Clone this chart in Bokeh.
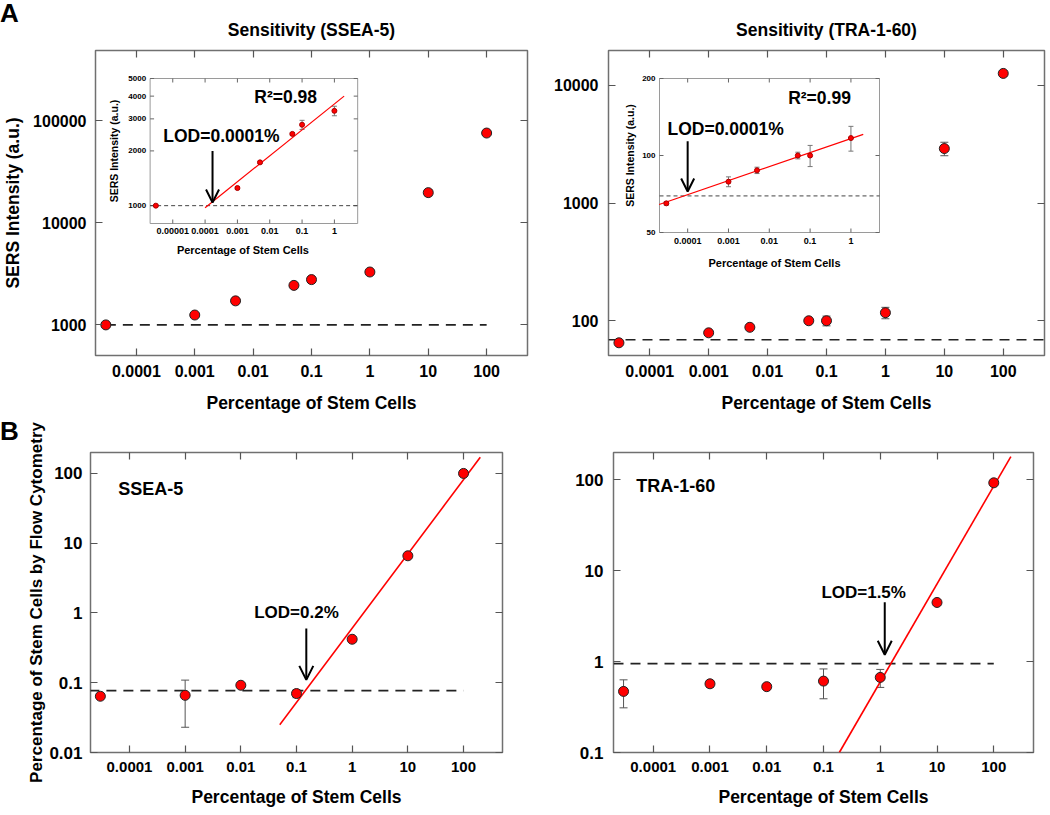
import math
from bokeh.plotting import figure
from bokeh.layouts import column, row
from bokeh.models import (LogAxis, FixedTicker, CustomJSTickFormatter, LogScale,
                          Whisker, TeeHead, ColumnDataSource, Arrow, OpenHead,
                          Label, Range1d, Div)
from bokeh.core.properties import value
from bokeh.embed import file_html
from bokeh.resources import INLINE

FONT = "Liberation Sans"

# ---------------- data ----------------
# Panel A (SERS sensitivity)
sers_conc = [3e-5, 0.001, 0.005, 0.05, 0.1, 1, 10, 100]
ssea5_sers = [1000, 1250, 1720, 2440, 2780, 3300, 19800, 76000]
ssea5_sers_err = [20, 40, 50, 60, 160, 200, 1400, 2500]
tra160_sers = [65, 79, 88, 100, 100, 117, 2900, 12600]
tra160_sers_err = [1.5, 3.5, 2.5, 3, 9.5, 13, 380, 600]
ssea5_blank = [1000, 1000]
ssea5_blank_x = [3e-5, 100]
tra160_blank = [69, 69]
tra160_blank_x = [10 ** -4.7, 10 ** 2.7]

# Insets of panel A
ins_ssea5_conc = [3e-6, 0.001, 0.005, 0.05, 0.1, 1]
ins_ssea5 = [1000, 1250, 1730, 2480, 2785, 3320]
ins_ssea5_err = [10, 20, 25, 40, 160, 200]
ins_ssea5_fit_x = [1e-4, 2.0]
ins_ssea5_fit_y = [975, 4000]
ins_ssea5_blank_x = [10 ** -5.7, 10 ** 0.72]
ins_ssea5_blank = [1000, 1000]

ins_tra_conc = [3e-5, 0.001, 0.005, 0.05, 0.1, 1]
ins_tra = [65, 79, 87.5, 100, 100, 117]
ins_tra_err = [1, 3.5, 2.5, 3, 9.5, 13]
ins_tra_fit_x = [2e-5, 2.0]
ins_tra_fit_y = [64.3, 121]
ins_tra_blank_x = [10 ** -4.69, 10 ** 0.70]
ins_tra_blank = [69.5, 69.5]

# Panel B (flow cytometry)
flow_conc = [3e-5, 0.001, 0.01, 0.1, 1, 10, 100]
ssea5_flow = [0.064, 0.066, 0.092, 0.070, 0.42, 6.6, 100]
ssea5_flow_err = [0.003, 0.043, 0.006, 0.009, 0.04, 0.3, 1]
ssea5_flow_fit_x = [0.05, 200]
ssea5_flow_fit_y = [0.025, 170]
ssea5_flow_blank_x = [10 ** -4.72, 100]
ssea5_flow_blank = [0.077, 0.077]

tra160_flow = [0.47, 0.57, 0.53, 0.61, 0.67, 4.47, 92.6]
tra160_flow_err = [0.16, 0.05, 0.02, 0.22, 0.15, 0.3, 2]
tra160_flow_fit_x = [0.19, 200]
tra160_flow_fit_y = [0.1, 180]
tra160_flow_blank_x = [10 ** -4.7, 100]
tra160_flow_blank = [0.95, 0.95]

# annotations (data coordinates)
lod_ssea5_ins = dict(x=1.7e-4, y0=2000, y1=1040, tx=3.2e-4, ty=2425, text="LOD=0.0001%")
r2_ssea5 = dict(x=0.031, y=3950, text="R\u00b2=0.98")
lod_tra_ins = dict(x=1e-4, y0=113.6, y1=72.3, tx=8.5e-4, ty=127, text="LOD=0.0001%")
r2_tra = dict(x=0.17, y=168, text="R\u00b2=0.99")
lod_ssea5_flow = dict(x=0.15, y0=0.6, y1=0.11, tx=0.1, ty=1.0, text="LOD=0.2%")
lod_tra_flow = dict(x=1.2, y0=4.5, y1=1.19, tx=0.51, ty=5.8, text="LOD=1.5%")

# ticks
main_x_ticks = [0.0001, 0.001, 0.01, 0.1, 1, 10, 100]
main_x_labels = ["0.0001", "0.001", "0.01", "0.1", "1", "10", "100"]
ssea5_y_ticks = [1000, 10000, 100000]
ssea5_y_labels = ["1000", "10000", "100000"]
tra_y_ticks = [100, 1000, 10000]
tra_y_labels = ["100", "1000", "10000"]
flow_ssea5_y_ticks = [0.01, 0.1, 1, 10, 100]
flow_ssea5_y_labels = ["0.01", "0.1", "1", "10", "100"]
flow_tra_y_ticks = [0.1, 1, 10, 100]
flow_tra_y_labels = ["0.1", "1", "10", "100"]
ins_ssea5_x_ticks = [0.00001, 0.0001, 0.001, 0.01, 0.1, 1]
ins_ssea5_x_labels = ["0.00001", "0.0001", "0.001", "0.01", "0.1", "1"]
ins_ssea5_y_ticks = [1000, 2000, 3000, 4000, 5000]
ins_ssea5_y_labels = ["1000", "2000", "3000", "4000", "5000"]
ins_tra_x_ticks = [0.0001, 0.001, 0.01, 0.1, 1]
ins_tra_x_labels = ["0.0001", "0.001", "0.01", "0.1", "1"]
ins_tra_y_ticks = [50, 100, 200]
ins_tra_y_labels = ["50", "100", "200"]

X_LABEL = "Percentage of Stem Cells"
Y_SERS = "SERS Intensity (a.u.)"
Y_FLOW = "Percentage of Stem Cells by Flow Cytometry"


# ---------------- helpers ----------------
def fmt(tick_values, tick_labels):
    return CustomJSTickFormatter(args=dict(tv=tick_values, tl=tick_labels), code="""
        for (let i = 0; i < tv.length; i++) {
            if (Math.abs(tv[i] - tick) <= 1e-9 * Math.abs(tv[i])) return tl[i];
        }
        return "";
    """)


def make_fig(w, h, mbl, mbr, mbt, mbb, xr, yr):
    p = figure(width=w, height=h, x_axis_type="log", y_axis_type="log",
               x_range=Range1d(*xr), y_range=Range1d(*yr),
               output_backend="svg", toolbar_location=None,
               min_border_left=mbl, min_border_right=mbr,
               min_border_top=mbt, min_border_bottom=mbb)
    p.background_fill_color = "white"
    p.border_fill_color = "white"
    p.border_fill_alpha = 0
    p.outline_line_color = "#707070"
    p.outline_line_width = 1.5
    p.xgrid.visible = False
    p.ygrid.visible = False
    return p


def setup_axes(p, xt, xl, yt, yl, x_fs, y_fs, x_so, y_so):
    xa = p.below[0]
    ya = p.left[0]
    xa.ticker = FixedTicker(ticks=xt)
    xa.formatter = fmt(xt, xl)
    ya.ticker = FixedTicker(ticks=yt)
    ya.formatter = fmt(yt, yl)
    for ax, fs, so in ((xa, x_fs, x_so), (ya, y_fs, y_so)):
        ax.major_label_text_font = FONT
        ax.major_label_text_font_style = "bold"
        ax.major_label_text_font_size = fs
        ax.major_label_text_color = "black"
        ax.major_label_standoff = so
    top = LogAxis(ticker=FixedTicker(ticks=xt), formatter=fmt(xt, xl))
    right = LogAxis(ticker=FixedTicker(ticks=yt), formatter=fmt(yt, yl))
    for ax in (top, right):
        ax.major_label_text_font_size = "1px"
        ax.major_label_text_alpha = 0
        ax.major_label_standoff = 0
    p.add_layout(top, "above")
    p.add_layout(right, "right")
    for ax in (xa, ya, top, right):
        ax.axis_line_color = None
        ax.major_tick_in = 7
        ax.major_tick_out = 0
        ax.major_tick_line_color = "#555555"
        ax.major_tick_line_width = 1.2
        ax.minor_tick_line_color = None
    return xa, ya


def axis_label(ax, text, fs, standoff):
    ax.axis_label = text
    ax.axis_label_text_font = FONT
    ax.axis_label_text_font_style = "bold"
    ax.axis_label_text_font_size = fs
    ax.axis_label_text_color = "black"
    ax.axis_label_standoff = standoff


def add_points(p, x, y, err, size, cap, err_color, line_color, **kw):
    src = ColumnDataSource(dict(x=x, y=y,
                                lo=[a - b for a, b in zip(y, err)],
                                hi=[a + b for a, b in zip(y, err)]))
    w = Whisker(source=src, base="x", upper="hi", lower="lo", dimension="height",
                line_color=err_color, line_width=1, level="underlay",
                upper_head=TeeHead(size=cap, line_color=err_color, line_width=1),
                lower_head=TeeHead(size=cap, line_color=err_color, line_width=1), **kw)
    p.add_layout(w)
    p.scatter("x", "y", source=src, size=size, fill_color="#ff0000",
              line_color=line_color, line_width=1, **kw)


def add_text(p, x, y, text, fs, align="center", **kw):
    p.add_layout(Label(x=x, y=y, text=text, text_font=FONT, text_font_style="bold",
                       text_font_size=fs, text_color="black", text_align=align,
                       text_baseline="middle", **kw))


def add_arrow(p, x, y0, y1, head, lw, **kw):
    p.add_layout(Arrow(x_start=x, y_start=y0, x_end=x, y_end=y1, line_width=lw,
                       line_color="black",
                       end=OpenHead(size=head, line_width=lw, line_color="black"), **kw))


def set_title(p, text):
    p.title.text = text
    p.title.align = "center"
    p.title.text_font = FONT
    p.title.text_font_style = "bold"
    p.title.text_font_size = "17.5px"
    p.title.text_color = "black"
    p.title.standoff = 21


def panel_letter(text):
    return Div(text=text, width=30, height=30, margin=(0, 0, -30, 0),
               styles={"font-family": FONT, "font-size": "26px", "font-weight": "bold",
                       "color": "black", "line-height": "1",
                       "position": "relative", "z-index": "10"})


def add_inset(p, name, frame_px, inset_px, xlog, ylog, xt, xl, yt, yl,
              xlab_dy, xtitle_dx, xtitle_dy, ytitle_dx):
    """Inset drawn inside the main frame through its own log scales."""
    FL, FR, FT, FB = frame_px
    IL, IR, IT, IB = inset_px
    a, b = xlog
    c, d = ylog
    kx = (b - a) / (IR - IL)
    ky = (d - c) / (IB - IT)
    p.extra_x_ranges = {name: Range1d(10 ** (a - (IL - FL) * kx), 10 ** (b + (FR - IR) * kx))}
    p.extra_y_ranges = {name: Range1d(10 ** (c - (FB - IB) * ky), 10 ** (d + (IT - FT) * ky))}
    p.extra_x_scales = {name: LogScale()}
    p.extra_y_scales = {name: LogScale()}
    kw = dict(x_range_name=name, y_range_name=name)
    p.quad(left=[10 ** a], right=[10 ** b], bottom=[10 ** c], top=[10 ** d],
           fill_color=None, line_color="#9a9a9a", line_width=1, **kw)
    tl = 4
    n, m = len(xt), len(yt)
    tick = dict(line_color="#666666", line_width=1)
    p.segment(x0=xt, y0=[10 ** c] * n, x1=xt, y1=[10 ** (c + tl * ky)] * n, **tick, **kw)
    p.segment(x0=xt, y0=[10 ** d] * n, x1=xt, y1=[10 ** (d - tl * ky)] * n, **tick, **kw)
    p.segment(x0=[10 ** a] * m, y0=yt, x1=[10 ** (a + tl * kx)] * m, y1=yt, **tick, **kw)
    p.segment(x0=[10 ** b] * m, y0=yt, x1=[10 ** (b - tl * kx)] * m, y1=yt, **tick, **kw)
    font = dict(text_font=value(FONT), text_font_style="bold", text_color="black")
    p.text(x=xt, y=[10 ** c] * n, text=xl, y_offset=xlab_dy, text_align="center",
           text_baseline="top", text_font_size="9px", **font, **kw)
    p.text(x=[10 ** a] * m, y=yt, text=yl, x_offset=-4, text_align="right",
           text_baseline="middle", text_font_size="8px", **font, **kw)
    p.text(x=[10 ** ((a + b) / 2)], y=[10 ** c], text=[X_LABEL], x_offset=xtitle_dx,
           y_offset=xtitle_dy, text_align="center", text_baseline="top",
           text_font_size="11px", **font, **kw)
    p.text(x=[10 ** a], y=[10 ** ((c + d) / 2)], text=[Y_SERS], x_offset=ytitle_dx,
           angle=math.pi / 2, text_align="center", text_baseline="middle",
           text_font_size="10.5px", **font, **kw)
    return kw


XR = (10 ** -4.7, 10 ** 2.7)

# ---------------- panel A left ----------------
pAL = make_fig(535, 418, 92, 8, 50, 63, XR, (10 ** 2.70, 10 ** 5.69))
xa, ya = setup_axes(pAL, main_x_ticks, main_x_labels, ssea5_y_ticks, ssea5_y_labels,
                    "16px", "16px", 9, 9)
axis_label(xa, X_LABEL, "17.5px", 13)
axis_label(ya, Y_SERS, "17.5px", 7)
set_title(pAL, "Sensitivity (SSEA-5)")
pAL.line(ssea5_blank_x, ssea5_blank, line_color="#222222", line_width=1.6, line_dash="10 7")
add_points(pAL, sers_conc, ssea5_sers, ssea5_sers_err, 10, 8, "#555555", "#222222")

kwL = add_inset(pAL, "insL", (92, 527, 50, 355), (147, 356, 78, 223),
                (-5.7, 0.72), (math.log10(798), math.log10(5000)),
                ins_ssea5_x_ticks, ins_ssea5_x_labels, ins_ssea5_y_ticks, ins_ssea5_y_labels,
                4, -11, 20, -36)
pAL.line(ins_ssea5_blank_x, ins_ssea5_blank, line_color="#444444", line_width=1,
         line_dash="4 3", **kwL)
pAL.line(ins_ssea5_fit_x, ins_ssea5_fit_y, line_color="#ff0000", line_width=1.2, **kwL)
add_points(pAL, ins_ssea5_conc, ins_ssea5, ins_ssea5_err, 5, 5, "#777777", "#aa0000", **kwL)
add_arrow(pAL, lod_ssea5_ins["x"], lod_ssea5_ins["y0"], lod_ssea5_ins["y1"], 13, 2, **kwL)
add_text(pAL, lod_ssea5_ins["tx"], lod_ssea5_ins["ty"], lod_ssea5_ins["text"], "17.5px", **kwL)
add_text(pAL, r2_ssea5["x"], r2_ssea5["y"], r2_ssea5["text"], "17.5px", **kwL)

# ---------------- panel A right ----------------
pAR = make_fig(513, 418, 73, 4, 50, 63, XR, (10 ** 1.705, 10 ** 4.295))
xa, ya = setup_axes(pAR, main_x_ticks, main_x_labels, tra_y_ticks, tra_y_labels,
                    "16px", "16px", 9, 10)
axis_label(xa, X_LABEL, "17.5px", 13)
set_title(pAR, "Sensitivity (TRA-1-60)")
pAR.line(tra160_blank_x, tra160_blank, line_color="#222222", line_width=1.6, line_dash="10 7")
add_points(pAR, sers_conc, tra160_sers, tra160_sers_err, 10, 8, "#555555", "#222222")

kwR = add_inset(pAR, "insR", (608, 1044, 50, 355), (659, 879, 78, 232),
                (-4.69, 0.70), (math.log10(50), math.log10(200)),
                ins_tra_x_ticks, ins_tra_x_labels, ins_tra_y_ticks, ins_tra_y_labels,
                5, 5, 24, -30)
pAR.line(ins_tra_blank_x, ins_tra_blank, line_color="#444444", line_width=1,
         line_dash="4 3", **kwR)
pAR.line(ins_tra_fit_x, ins_tra_fit_y, line_color="#ff0000", line_width=1.2, **kwR)
add_points(pAR, ins_tra_conc, ins_tra, ins_tra_err, 5, 5, "#777777", "#aa0000", **kwR)
add_arrow(pAR, lod_tra_ins["x"], lod_tra_ins["y0"], lod_tra_ins["y1"], 13, 2, **kwR)
add_text(pAR, lod_tra_ins["tx"], lod_tra_ins["ty"], lod_tra_ins["text"], "17.5px", **kwR)
add_text(pAR, r2_tra["x"], r2_tra["y"], r2_tra["text"], "17.5px", **kwR)

# ---------------- panel B left ----------------
pBL = make_fig(535, 395, 90, 33, 34, 61, XR, (10 ** -2, 10 ** 2.30))
xa, ya = setup_axes(pBL, main_x_ticks, main_x_labels, flow_ssea5_y_ticks, flow_ssea5_y_labels,
                    "15px", "17px", 9, 8)
axis_label(xa, X_LABEL, "17.5px", 12)
axis_label(ya, Y_FLOW, "17px", 0)
pBL.line(ssea5_flow_blank_x, ssea5_flow_blank, line_color="#222222", line_width=1.6, line_dash="10 7")
pBL.line(ssea5_flow_fit_x, ssea5_flow_fit_y, line_color="#ff0000", line_width=1.6)
add_points(pBL, flow_conc, ssea5_flow, ssea5_flow_err, 10, 8, "#555555", "#222222")
add_arrow(pBL, lod_ssea5_flow["x"], lod_ssea5_flow["y0"], lod_ssea5_flow["y1"], 14, 2)
add_text(pBL, lod_ssea5_flow["tx"], lod_ssea5_flow["ty"], lod_ssea5_flow["text"], "17px")
add_text(pBL, 6.3e-5, 60, "SSEA-5", "18px", align="left")

# ---------------- panel B right ----------------
pBR = make_fig(513, 395, 78, 15, 34, 61, XR, (10 ** -1, 10 ** 2.30))
xa, ya = setup_axes(pBR, main_x_ticks, main_x_labels, flow_tra_y_ticks, flow_tra_y_labels,
                    "15px", "17px", 9, 10)
axis_label(xa, X_LABEL, "17.5px", 12)
pBR.line(tra160_flow_blank_x, tra160_flow_blank, line_color="#222222", line_width=1.6, line_dash="10 7")
pBR.line(tra160_flow_fit_x, tra160_flow_fit_y, line_color="#ff0000", line_width=1.6)
add_points(pBR, flow_conc, tra160_flow, tra160_flow_err, 10, 8, "#555555", "#222222")
add_arrow(pBR, lod_tra_flow["x"], lod_tra_flow["y0"], lod_tra_flow["y1"], 14, 2)
add_text(pBR, lod_tra_flow["tx"], lod_tra_flow["ty"], lod_tra_flow["text"], "17px")
add_text(pBR, 5e-5, 85, "TRA-1-60", "18px", align="left")

layout = column(panel_letter("A"), row(pAL, pAR), panel_letter("B"), row(pBL, pBR))

open("out.html", "w").write(file_html(layout, INLINE))
